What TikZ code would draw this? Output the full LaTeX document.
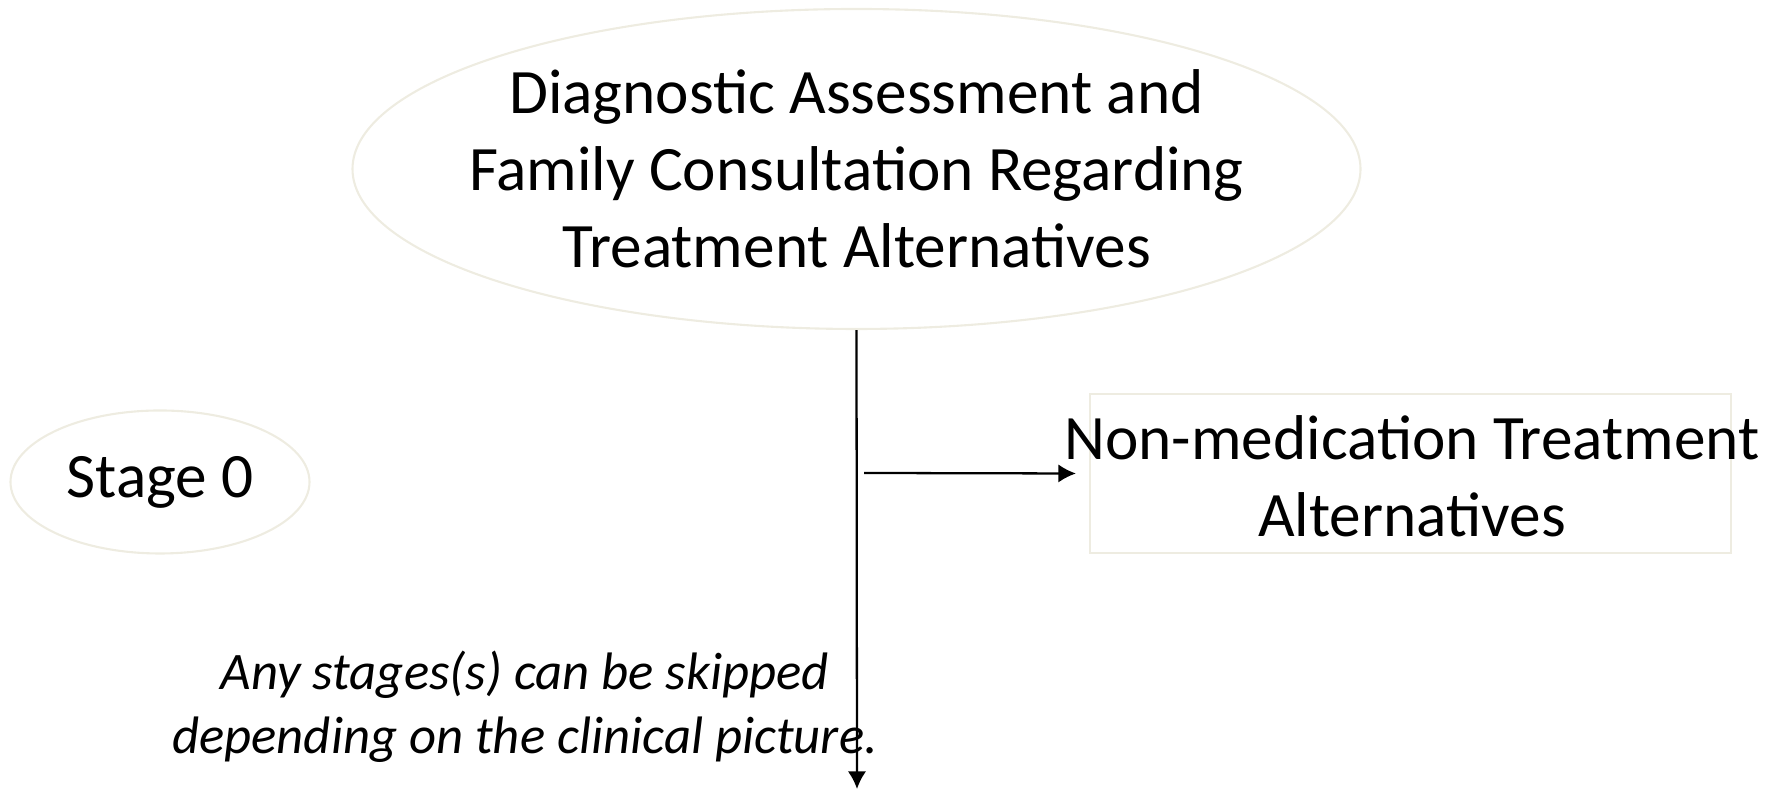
\documentclass[tikz,border=0pt]{standalone}
\usepackage{fontspec}
\setmainfont{Carlito}
\usetikzlibrary{shapes.geometric,arrows.meta}
\definecolor{tanline}{RGB}{238,236,225}
\tikzset{
    bubble/.style={ellipse,draw=tanline,line width=.6pt,inner sep=0pt},
    tanbox/.style={rectangle,draw=tanline,line width=.6pt,inner sep=0pt},
    plain/.style={align=center,inner sep=0pt,font=\fontsize{18}{21.9}\selectfont}
}
\begin{document}
\begin{tikzpicture}[>={Latex[length=5pt,width=5.2pt]},line width=.65pt]
\useasboundingbox(0,0)rectangle(17.81,7.89);
\node[bubble,minimum width=10.08cm,minimum height=3.2cm](diag)at(8.565,6.2){};
\node[plain](diagtext)at(diag.center){Diagnostic Assessment and\\Family Consultation Regarding\\Treatment Alternatives};
\node[bubble,minimum width=2.99cm,minimum height=1.43cm](stage)at(1.6,3.07){};
\node[plain](stagetext)at(stage.center){Stage 0};
\node[tanbox,minimum width=6.41cm,minimum height=1.59cm](box)at(14.105,3.155){};
\node[plain](boxtext)at(14.12,3.13){Non-medication Treatment\\Alternatives};
\node[align=center,inner sep=0pt,font=\fontsize{15}{18.2}\selectfont\itshape](skip)at(5.25,.82){Any stages(s) can be skipped\\depending on the clinical picture.};
\coordinate(bottom)at(8.57,0);
\coordinate(split)at(8.64,3.16);
\draw[->](diag.south)--(bottom);
\draw[->](split)--([xshift=-1.3mm]box.west);
\end{tikzpicture}
\end{document}
